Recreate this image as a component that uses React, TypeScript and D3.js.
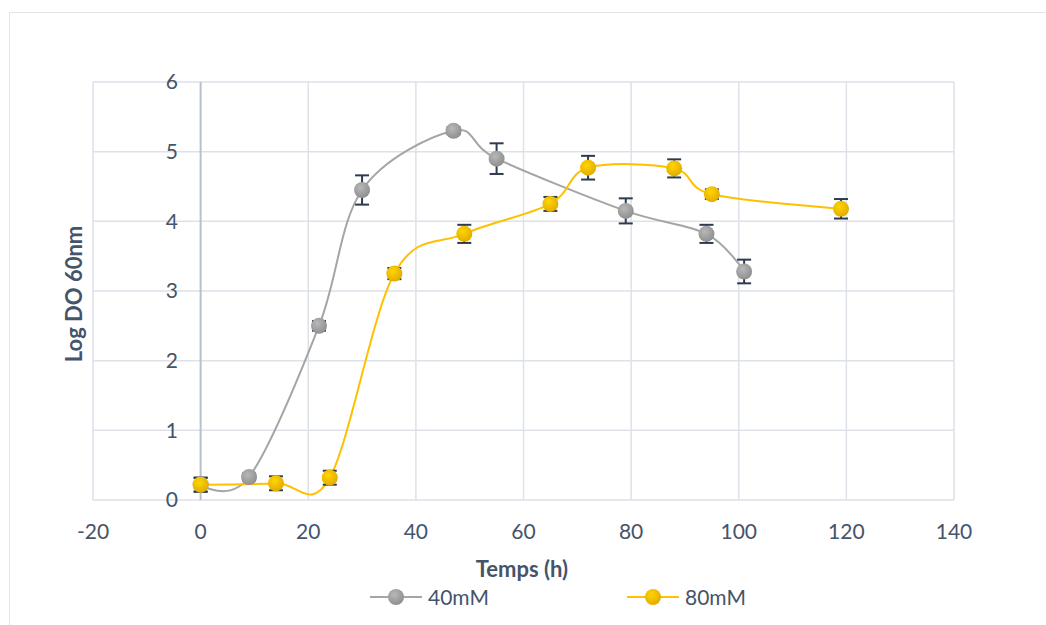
import React from 'react';
import * as d3 from 'd3';

// 40mM series
const t40 = [0, 9, 22, 30, 47, 55, 79, 94, 101];
const y40 = [0.22, 0.33, 2.5, 4.45, 5.3, 4.9, 4.15, 3.82, 3.28];
const e40 = [0.1, 0.05, 0.07, 0.21, 0.05, 0.22, 0.18, 0.13, 0.17];

// 80mM series
const t80 = [0, 14, 24, 36, 49, 65, 72, 88, 95, 119];
const y80 = [0.22, 0.24, 0.32, 3.25, 3.82, 4.25, 4.77, 4.76, 4.39, 4.18];
const e80 = [0.1, 0.1, 0.1, 0.08, 0.13, 0.1, 0.17, 0.13, 0.07, 0.14];

const xTicks = [-20, 0, 20, 40, 60, 80, 100, 120, 140];
const yTicks = [0, 1, 2, 3, 4, 5, 6];

const W = 1046;
const H = 625;
const margin = { top: 82, right: 92, bottom: 125, left: 93 };
const font = 'Lato, "Noto Sans", sans-serif';
const textColor = '#44546a';
const gridColor = '#dde1e8';
const barColor = '#2e3a4f';

const series = [
  { name: '40mM', t: t40, y: y40, e: e40, color: '#a5a5a5', dark: '#8c8c8c' },
  { name: '80mM', t: t80, y: y80, e: e80, color: '#ffc000', dark: '#e0a800' },
];

export default function App() {
  const x = d3.scaleLinear().domain([-20, 140]).range([margin.left, W - margin.right]);
  const y = d3.scaleLinear().domain([0, 6]).range([H - margin.bottom, margin.top]);

  const lineGen = d3
    .line<[number, number]>()
    .x((d) => x(d[0]))
    .y((d) => y(d[1]))
    .curve(d3.curveCardinal.tension(0));

  return (
    <svg width={W} height={H} style={{ position: 'absolute', left: 0, top: 0, background: '#fff' }}>
      <defs>
        {series.map((s, i) => (
          <radialGradient key={i} id={`g${i}`} cx="40%" cy="35%" r="70%">
            <stop offset="0%" stopColor={d3.color(s.color)!.brighter(0.3).toString()} />
            <stop offset="100%" stopColor={s.dark} />
          </radialGradient>
        ))}
      </defs>
      {/* outer chart frame */}
      <rect x={9.5} y={12.5} width={W} height={H} fill="none" stroke="#e3e5e8" />

      {/* grid */}
      {yTicks.map((v) => (
        <line key={'gy' + v} x1={x(-20)} x2={x(140)} y1={y(v)} y2={y(v)} stroke={gridColor} strokeWidth={1.5} />
      ))}
      {xTicks.map((v) => (
        <line
          key={'gx' + v}
          x1={x(v)}
          x2={x(v)}
          y1={y(0)}
          y2={y(6)}
          stroke={v === 0 ? '#b8c0cc' : gridColor}
          strokeWidth={v === 0 ? 2 : 1.5}
        />
      ))}

      {/* tick labels */}
      {yTicks.map((v) => (
        <text key={'ty' + v} x={178} y={y(v)} dy="0.35em" textAnchor="end" fontFamily={font} fontSize={21} fill={textColor}>
          {v}
        </text>
      ))}
      {xTicks.map((v) => (
        <text key={'tx' + v} x={x(v)} y={532} dy="0.35em" textAnchor="middle" fontFamily={font} fontSize={21} fill={textColor}>
          {v}
        </text>
      ))}

      {/* series lines */}
      {series.map((s, i) => (
        <path
          key={'l' + i}
          d={lineGen(s.t.map((t, j) => [t, s.y[j]] as [number, number])) || ''}
          fill="none"
          stroke={s.color}
          strokeWidth={2}
        />
      ))}

      {/* error bars */}
      {series.map((s, i) =>
        s.t.map((t, j) => (
          <g key={`e${i}-${j}`} stroke={barColor} strokeWidth={2}>
            <line x1={x(t)} x2={x(t)} y1={y(s.y[j] + s.e[j])} y2={y(s.y[j] - s.e[j])} />
            <line x1={x(t) - 7} x2={x(t) + 7} y1={y(s.y[j] + s.e[j])} y2={y(s.y[j] + s.e[j])} />
            <line x1={x(t) - 7} x2={x(t) + 7} y1={y(s.y[j] - s.e[j])} y2={y(s.y[j] - s.e[j])} />
          </g>
        ))
      )}

      {/* markers */}
      {series.map((s, i) =>
        s.t.map((t, j) => (
          <circle key={`m${i}-${j}`} cx={x(t)} cy={y(s.y[j])} r={8} fill={`url(#g${i})`} />
        ))
      )}

      {/* axis titles */}
      <text
        transform={`translate(82,${(y(0) + y(6)) / 2 + 3}) rotate(-90)`}
        textAnchor="middle"
        fontFamily={font}
        fontWeight="bold"
        fontSize={22}
        fill={textColor}
      >
        Log DO 60nm
      </text>
      <text x={522} y={577} textAnchor="middle" fontFamily={font} fontWeight="bold" fontSize={22} fill={textColor}>
        Temps (h)
      </text>

      {/* legend */}
      {series.map((s, i) => {
        const lx = i === 0 ? 370 : 627;
        return (
          <g key={'lg' + i}>
            <line x1={lx} x2={lx + 52} y1={597} y2={597} stroke={s.color} strokeWidth={2} />
            <circle cx={lx + 26} cy={597} r={8} fill={`url(#g${i})`} />
            <text x={lx + 58} y={598} dy="0.35em" fontFamily={font} fontSize={21} fill={textColor}>
              {s.name}
            </text>
          </g>
        );
      })}
    </svg>
  );
}
